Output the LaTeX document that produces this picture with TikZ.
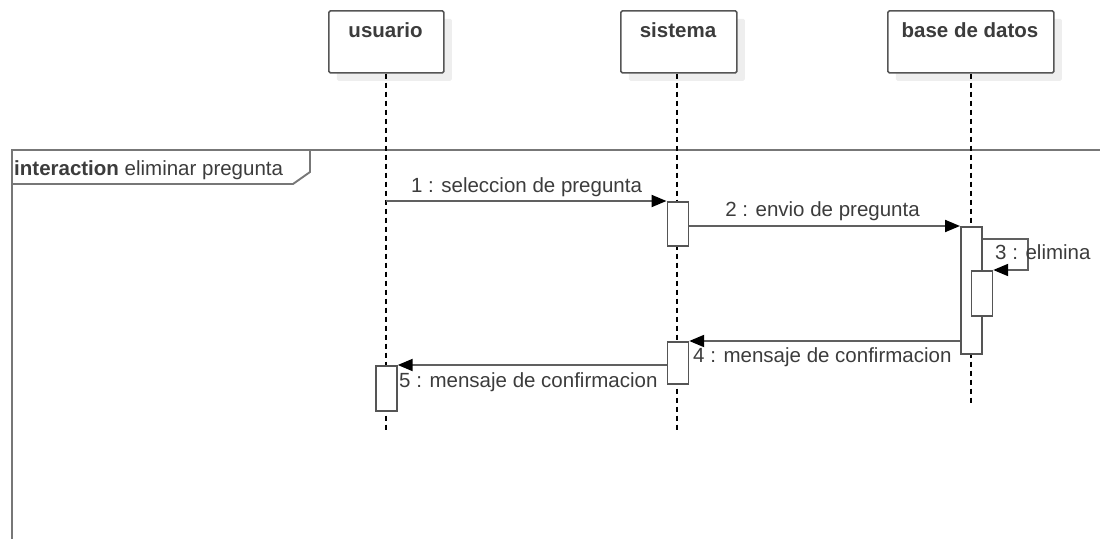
\documentclass[tikz,border=0pt]{standalone}
\usepackage{fontspec}
\setmainfont{Liberation Sans}
\usetikzlibrary{arrows.meta,calc,shadows}
\definecolor{boxline}{HTML}{555555}
\definecolor{msgline}{HTML}{606060}
\definecolor{framecol}{HTML}{777777}
\definecolor{txt}{HTML}{3C3C3C}
\definecolor{shade}{HTML}{EEEEEE}
\begin{document}
\begin{tikzpicture}[x=1pt,y=-1pt,
  headbox/.style={draw=boxline, line width=1.7pt, fill=white, rounded corners=1.5pt,
    minimum width=#1, minimum height=62pt, anchor=north west, inner sep=0pt,
    drop shadow={shadow xshift=8pt, shadow yshift=-8pt, fill=shade, opacity=1}},
  headtxt/.style={anchor=base, inner sep=0pt, text=txt, font=\fontsize{20.5}{24}\selectfont\bfseries},
  actbox/.style={draw=boxline, line width=1.7pt, fill=white, minimum width=21pt,
    minimum height=#1, anchor=north west, inner sep=0pt},
  lifeline/.style={draw=black, line width=1.5pt, dash pattern=on 5pt off 4pt},
  msg/.style={draw=msgline, line width=2pt, -{Triangle[length=15pt,width=12pt,fill=black,color=black]}},
  msgtxt/.style={inner sep=0pt, text=txt, font=\fontsize{20.5}{24}\selectfont},
  framepath/.style={draw=framecol, line width=1.9pt}
]
\useasboundingbox (0,0) rectangle (1100,538);

% frame
\coordinate (ftl) at (12,150);
\coordinate (fbl) at (12,540);
\coordinate (ftr) at (1102,150);
\draw[framepath] (fbl) -- (ftl) -- (ftr);
\draw[framepath, line join=miter] (ftl) -- ++(298,0) -- ++(0,22) -- ++(-17,12) -- (12,184);
\node[msgtxt, anchor=base west] (flbl) at (14,175) {\textbf{interaction} eliminar pregunta};

% heads
\node[headbox=115pt] (u) at (328,10) {};
\node[headtxt] (ut) at (385.5,37) {usuario};
\node[headbox=116pt] (s) at (620,10) {};
\node[headtxt] (st) at (678,37) {sistema};
\node[headbox=166pt] (b) at (887,10) {};
\node[headtxt] (bt) at (970,37) {base de datos};

% lifeline ends
\coordinate (uend) at (386,431);
\coordinate (send) at (677,431);
\coordinate (bend) at (971,404);
\draw[lifeline] (u.south -| uend) -- (uend);
\draw[lifeline] (s.south -| send) -- (send);
\draw[lifeline] (b.south -| bend) -- (bend);

% activations
\node[actbox=44pt] (a1) at (666.5,201) {};
\node[actbox=127pt] (a3) at (960,226) {};
\node[actbox=45pt] (a3b) at (970.5,270) {};
\node[actbox=42pt] (a4) at (666.5,341) {};
\node[actbox=45pt] (a5) at (375,365) {};

% messages
\coordinate (m1s) at (386,201);
\draw[msg] (m1s) -- (a1.north west);
\node[msgtxt, anchor=base] (l1) at (526.5,192) {1 : seleccion de pregunta};

\draw[msg] (a1.east |- a3.north) -- (a3.north west);
\node[msgtxt, anchor=base] (l2) at (822.5,216) {2 : envio de pregunta};

\coordinate (m3a) at (1028,239);
\draw[msg] (a3.east |- m3a) -- (m3a) -- (m3a |- a3b.north) -- (a3b.north east);
\node[msgtxt, anchor=base west] (l3) at (995,259) {3 : elimina};

\draw[msg] (a3.west |- a4.north) -- (a4.north east);
\node[msgtxt, anchor=base west] (l4) at (693,362) {4 : mensaje de confirmacion};

\draw[msg] (a4.west |- a5.north) -- (a5.north east);
\node[msgtxt, anchor=base west] (l5) at (399,387) {5 : mensaje de confirmacion};
\end{tikzpicture}
\end{document}
